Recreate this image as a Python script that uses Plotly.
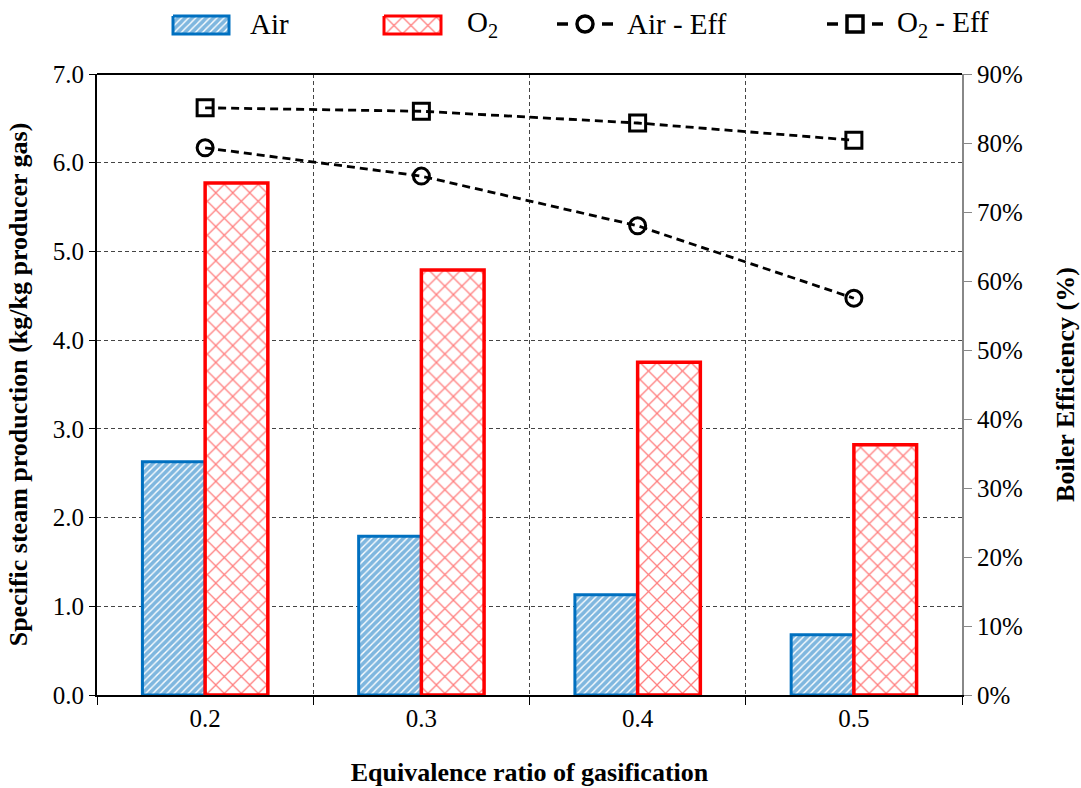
import plotly.graph_objects as go

ratios = ["0.2", "0.3", "0.4", "0.5"]
air_steam = [2.63, 1.79, 1.13, 0.68]
o2_steam = [5.77, 4.79, 3.75, 2.82]
air_eff = [79.3, 75.2, 68.0, 57.5]
o2_eff = [85.1, 84.6, 82.9, 80.4]

legend_labels = ["Air", "O<sub>2</sub>", "Air - Eff", "O<sub>2</sub> - Eff"]

FONT = "Times New Roman, Liberation Serif, serif"
BLUE = "#0070C0"
RED = "#FF0000"
GRID = "#444444"
AIR_PAT = dict(shape="/", fgcolor=BLUE, bgcolor="white", size=5, solidity=0.72)
O2_PAT = dict(shape="x", fgcolor=RED, bgcolor="white", size=12, solidity=0.2)
DASH = "8px,5px"

W, H = 1081, 788
ML, MR, MT, MB = 97, 119, 0, 93
PLOT_TOP = 74
paper_h = H - MT - MB
main_top = (paper_h - PLOT_TOP) / paper_h
leg_bottom = 0.92
leg_span = (1 - leg_bottom) * paper_h

fig = go.Figure()
fig.add_trace(go.Bar(
    x=ratios, y=air_steam, name="Air", showlegend=False,
    marker=dict(color="white", line=dict(color=BLUE, width=3), pattern=AIR_PAT),
))
fig.add_trace(go.Bar(
    x=ratios, y=o2_steam, name="O2", showlegend=False,
    marker=dict(color="white", line=dict(color=RED, width=3.5), pattern=O2_PAT),
))
fig.add_trace(go.Scatter(
    x=ratios, y=air_eff, name="Air - Eff", yaxis="y2", mode="lines+markers", showlegend=False,
    line=dict(color="black", width=2.8, dash=DASH),
    marker=dict(symbol="circle-open", size=16, color="black", line=dict(width=3)),
))
fig.add_trace(go.Scatter(
    x=ratios, y=o2_eff, name="O2 - Eff", yaxis="y2", mode="lines+markers", showlegend=False,
    line=dict(color="black", width=2.8, dash=DASH),
    marker=dict(symbol="square-open", size=16, color="black", line=dict(width=3)),
))

# ---- custom legend (pixel-like coordinates on a hidden axis pair) ----
def swatch(x0, x1, y0, y1, color, pat):
    fig.add_trace(go.Scatter(
        x=[x0, x1, x1, x0, x0], y=[y0, y0, y1, y1, y0], xaxis="x3", yaxis="y3",
        mode="lines", fill="toself", fillcolor="white", fillpattern=pat,
        line=dict(color=color, width=3), showlegend=False, hoverinfo="skip"))

def linesym(x0, x1, yc, symbol, size):
    fig.add_trace(go.Scatter(
        x=[x0, x0 + 11, None, x1 - 11, x1], y=[yc, yc, None, yc, yc],
        xaxis="x3", yaxis="y3", mode="lines",
        line=dict(color="black", width=3.5), showlegend=False, hoverinfo="skip"))
    fig.add_trace(go.Scatter(
        x=[(x0 + x1) / 2], y=[yc], xaxis="x3", yaxis="y3", mode="markers",
        marker=dict(symbol=symbol, size=size, color="black", line=dict(width=3.5)),
        showlegend=False, hoverinfo="skip"))

YC = 24
swatch(173, 229, 16, 34, BLUE, AIR_PAT)
swatch(384, 441, 16, 34, RED, O2_PAT)
linesym(557, 613, YC, "circle-open", 16)
linesym(827, 883, YC, "square-open", 16)
text_x = [248, 465, 625, 895]
for lbl, tx in zip(legend_labels, text_x):
    fig.add_annotation(x=tx, y=YC, xref="x3", yref="y3", text=lbl, showarrow=False,
                       xanchor="left", yanchor="middle", font=dict(family=FONT, size=29))

fig.update_layout(
    width=W, height=H,
    margin=dict(l=ML, r=MR, t=MT, b=MB, autoexpand=False),
    paper_bgcolor="white", plot_bgcolor="white",
    font=dict(family=FONT, size=25, color="black"),
    barmode="group", bargap=0.42, bargroupgap=0,
    showlegend=False,
    xaxis=dict(
        type="category", tickson="boundaries", ticks="outside", ticklen=8,
        tickcolor="black", showline=True, linecolor="black", linewidth=2,
        showgrid=True, gridcolor=GRID, griddash="4px,3px", gridwidth=1,
        tickfont=dict(family=FONT, size=25),
        title=dict(text="<b>Equivalence ratio of gasification</b>",
                   font=dict(family=FONT, size=26), standoff=32),
    ),
    yaxis=dict(
        domain=[0, main_top],
        range=[0, 7], dtick=1, tickformat=".1f", ticks="outside", ticklen=6,
        tickcolor="black", showline=True, linecolor="black", linewidth=2,
        showgrid=True, gridcolor=GRID, griddash="4px,3px", gridwidth=1,
        tickfont=dict(family=FONT, size=25),
        title=dict(text="<b>Specific steam production (kg/kg producer gas)</b>",
                   font=dict(family=FONT, size=26), standoff=18),
        zeroline=False,
    ),
    yaxis2=dict(
        overlaying="y", side="right", range=[0, 90], dtick=10, ticksuffix="%",
        ticks="outside", ticklen=8, tickcolor="#888888", showline=True,
        linecolor="#888888", linewidth=2, showgrid=False, zeroline=False,
        tickfont=dict(family=FONT, size=25),
        title=dict(text="<b>Boiler Efficiency (%)</b>",
                   font=dict(family=FONT, size=26), standoff=34),
    ),
    xaxis3=dict(domain=[0, 1], range=[ML, W - MR], visible=False, anchor="y3",
                fixedrange=True),
    yaxis3=dict(domain=[leg_bottom, 1], range=[leg_span, 0], visible=False, anchor="x3",
                fixedrange=True),
)
fig.add_shape(type="line", xref="x domain", yref="y domain", x0=0, x1=1, y0=1, y1=1,
              line=dict(color="black", width=2))

fig.write_html("out.html")
